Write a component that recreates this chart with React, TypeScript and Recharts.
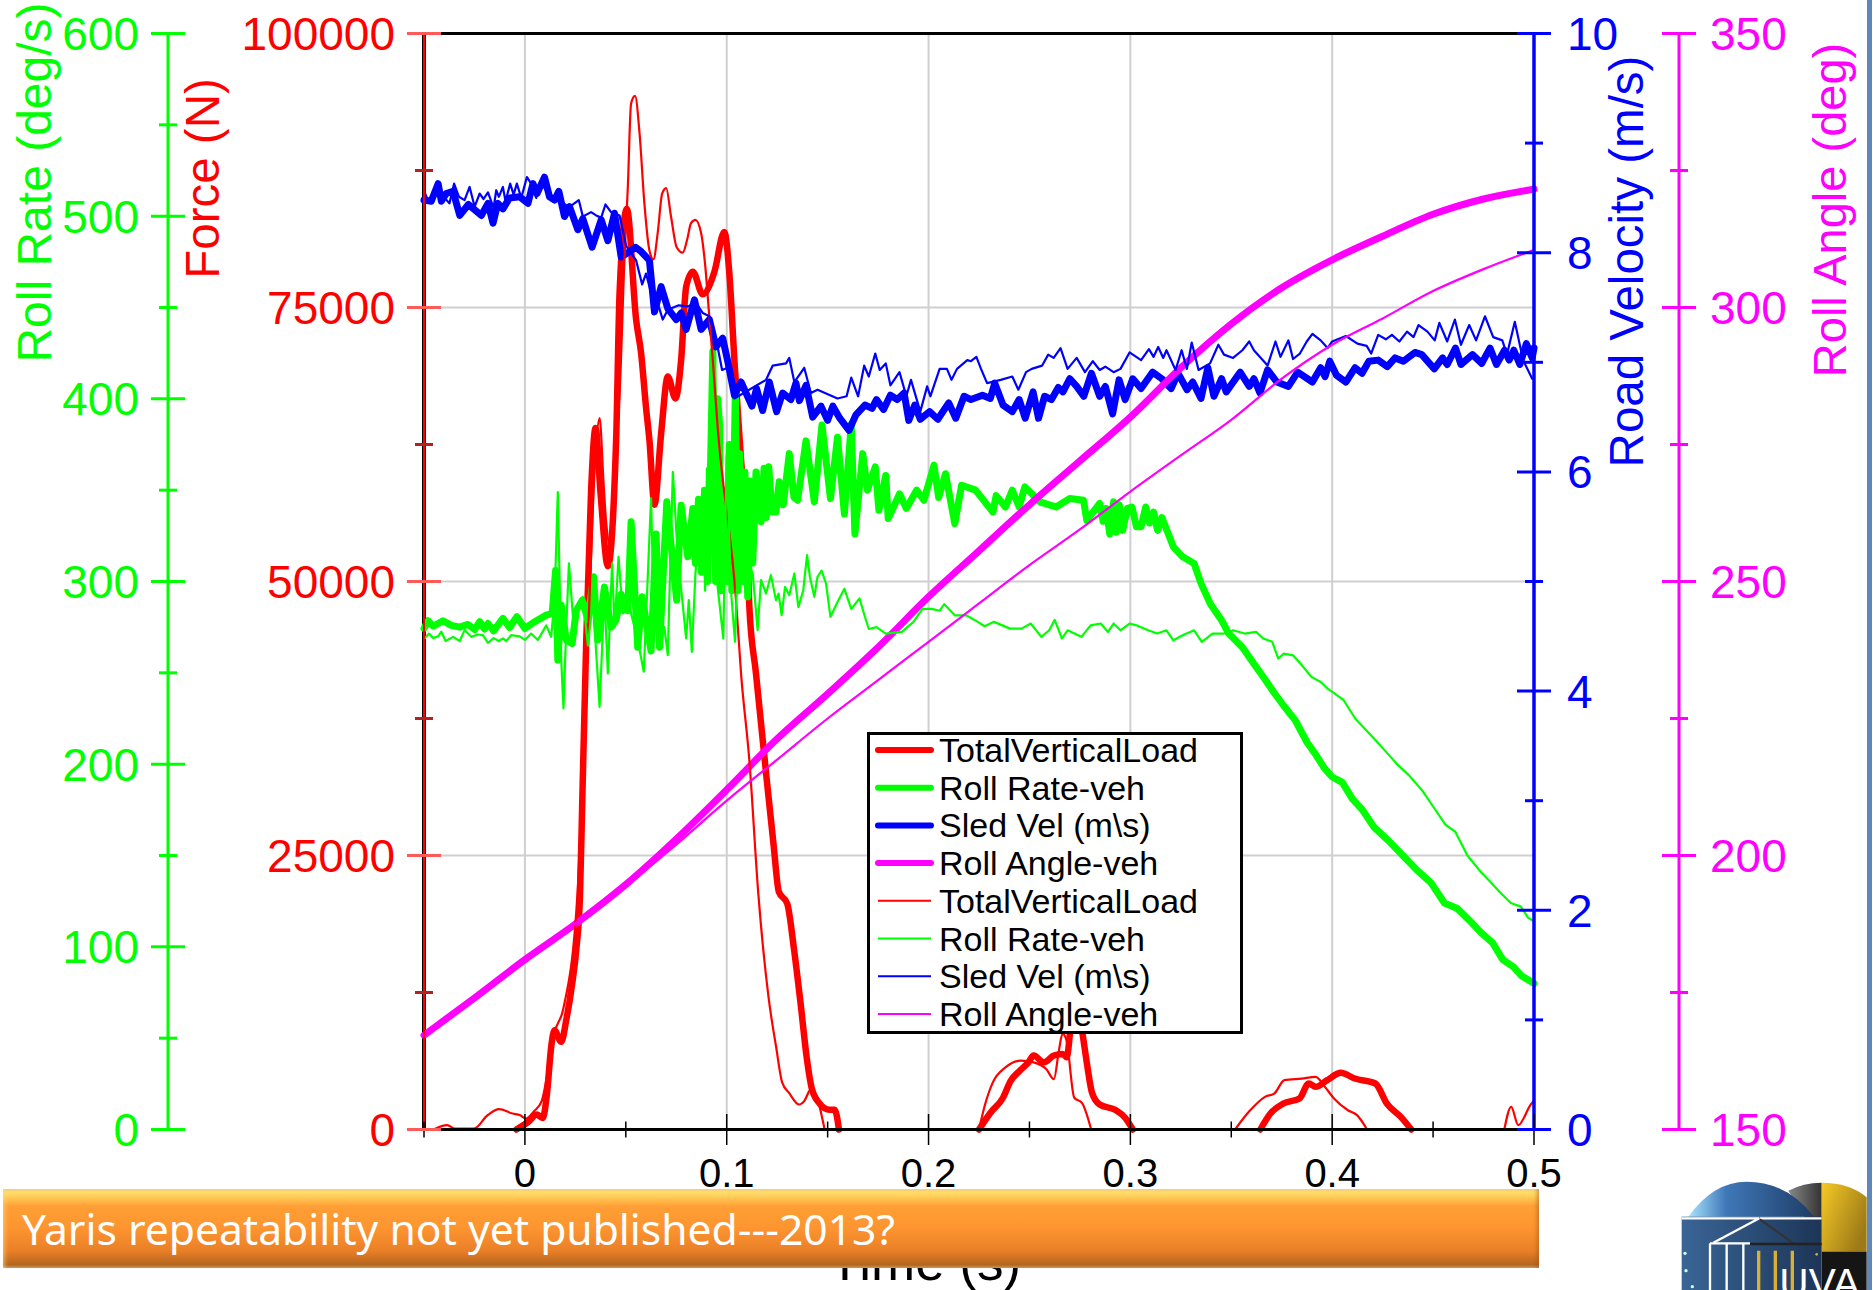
import React from 'react';
import { ComposedChart, CartesianGrid, XAxis, YAxis, Line, Legend, ReferenceLine } from 'recharts';

const RED = '#ff0000';
const GREEN = '#00ff00';
const BLUE = '#0000ff';
const MAGENTA = '#ff00ff';

// axis ticks (minor ones get no label)
const timeTicks = [-0.05, 0, 0.05, 0.1, 0.15, 0.2, 0.25, 0.3, 0.35, 0.4, 0.45, 0.5];
const timeLabels = [0, 0.1, 0.2, 0.3, 0.4, 0.5];
const rateTicks = [0, 50, 100, 150, 200, 250, 300, 350, 400, 450, 500, 550, 600];
const rateLabels = [0, 100, 200, 300, 400, 500, 600];
const forceTicks = [0, 12500, 25000, 37500, 50000, 62500, 75000, 87500, 100000];
const forceLabels = [0, 25000, 50000, 75000, 100000];
const velTicks = [0, 1, 2, 3, 4, 5, 6, 7, 8, 9, 10];
const velLabels = [0, 2, 4, 6, 8, 10];
const angleTicks = [150, 175, 200, 225, 250, 275, 300, 325, 350];
const angleLabels = [150, 200, 250, 300, 350];

// TotalVerticalLoad, thick
const forceThickT = [-0.0043, 0.002, 0.0058, 0.0088, 0.0109, 0.013, 0.0146, 0.018, 0.0205, 0.0235, 0.0255, 0.0273, 0.0285, 0.0304, 0.0328, 0.035, 0.0375, 0.0411, 0.0452, 0.0469, 0.0505, 0.0551, 0.0576, 0.06, 0.0617, 0.0642, 0.0675, 0.0708, 0.0746, 0.0774, 0.0799, 0.0832, 0.0881, 0.0939, 0.0988, 0.1013, 0.1038, 0.1071, 0.1104, 0.1112, 0.1145, 0.1195, 0.1232, 0.1258, 0.13, 0.1333, 0.1366, 0.1396, 0.1422, 0.1459, 0.151, 0.1535, 0.1556, 0.19, 0.225, 0.2306, 0.2369, 0.2407, 0.2452, 0.2495, 0.2521, 0.2571, 0.2621, 0.2664, 0.2684, 0.2722, 0.276, 0.2785, 0.281, 0.2848, 0.2924, 0.2975, 0.3012, 0.33, 0.3644, 0.3694, 0.3758, 0.3838, 0.3884, 0.3918, 0.3975, 0.4043, 0.4112, 0.4214, 0.4271, 0.434, 0.4392];
const forceThick = [0, 740, 1360, 1050, 3200, 7500, 9060, 8000, 10000, 13400, 16500, 21400, 30600, 44700, 58350, 64000, 58000, 51400, 62900, 76300, 84000, 73900, 70800, 65900, 62900, 57000, 63500, 68700, 66700, 70200, 76900, 78270, 76200, 78270, 81900, 78100, 70200, 61100, 52300, 47700, 41600, 32500, 26000, 21700, 20600, 16500, 11500, 6600, 3700, 2400, 1800, 1800, 0, null, 0, 1510, 2900, 4440, 5360, 6130, 6750, 6130, 6750, 6900, 6600, 12100, 9060, 6000, 3360, 2280, 1800, 1050, 0, null, 0, 1460, 2370, 2830, 4200, 3890, 4500, 5170, 4650, 4200, 2370, 1150, 0];

// TotalVerticalLoad, thin
const forceThinT = [-0.0452, -0.0385, -0.0347, -0.0252, -0.0185, -0.0128, -0.0061, -0.0023, 0.0006, 0.0045, 0.0083, 0.012, 0.0146, 0.019, 0.026, 0.0312, 0.0353, 0.037, 0.039, 0.0403, 0.0427, 0.0452, 0.0469, 0.0493, 0.051, 0.0526, 0.0546, 0.0568, 0.0592, 0.0617, 0.0637, 0.0658, 0.068, 0.07, 0.0724, 0.0752, 0.0782, 0.0804, 0.0823, 0.0845, 0.0873, 0.0894, 0.0911, 0.0931, 0.0955, 0.1046, 0.1071, 0.1112, 0.1157, 0.1207, 0.1245, 0.1275, 0.1308, 0.1359, 0.1384, 0.1417, 0.1447, 0.1485, 0.19, 0.225, 0.228, 0.2318, 0.2381, 0.2457, 0.2521, 0.2583, 0.2621, 0.2646, 0.2664, 0.2684, 0.2722, 0.276, 0.2806, 0.32, 0.3519, 0.3587, 0.3667, 0.3713, 0.3763, 0.3849, 0.3918, 0.3964, 0.4009, 0.4078, 0.4123, 0.4173, 0.45, 0.4853, 0.4887, 0.4922, 0.4985, 0.5];
const forceThin = [0, 400, 90, 90, 1300, 1850, 1460, 1300, 1000, 1660, 2590, 5980, 8750, 11000, 21400, 44700, 62600, 64900, 58900, 55300, 53000, 62900, 67100, 79300, 86000, 93600, 94300, 90900, 84500, 80200, 79400, 81800, 85400, 85900, 83300, 80500, 80000, 81200, 82700, 83000, 81800, 78700, 74800, 70200, 64100, 48300, 41600, 33700, 21400, 12100, 7500, 4280, 3360, 2280, 2590, 3670, 2900, 0, null, 0, 2280, 4280, 5670, 6290, 6130, 5520, 4590, 7210, 8750, 8100, 2900, 2435, 0, null, 0, 1610, 2980, 3280, 4500, 4650, 4800, 3890, 2830, 1760, 1310, 0, null, 0, 2070, 400, 2310, 2600];

// Roll Rate-veh, thick
const rateThickT = [-0.05, -0.048, -0.0455, -0.043, -0.0406, -0.0365, -0.0323, -0.0282, -0.0249, -0.0224, -0.02, -0.0183, -0.0155, -0.0109, -0.0076, -0.004, 0, 0.004, 0.0106, 0.0135, 0.0152, 0.0163, 0.018, 0.0205, 0.0234, 0.0254, 0.0284, 0.0312, 0.034, 0.0361, 0.0394, 0.0427, 0.0452, 0.0477, 0.051, 0.0526, 0.0559, 0.0581, 0.0625, 0.065, 0.0667, 0.0703, 0.0752, 0.0774, 0.0807, 0.0832, 0.0845, 0.086, 0.0875, 0.089, 0.0905, 0.092, 0.0931, 0.0945, 0.0955, 0.0964, 0.0972, 0.0985, 0.1, 0.1013, 0.1025, 0.1043, 0.1055, 0.1065, 0.108, 0.109, 0.1104, 0.1115, 0.1129, 0.1145, 0.117, 0.1185, 0.1195, 0.1208, 0.1225, 0.1244, 0.126, 0.128, 0.131, 0.1333, 0.1351, 0.1393, 0.1434, 0.1472, 0.1514, 0.1549, 0.1583, 0.1617, 0.1635, 0.1674, 0.1697, 0.1736, 0.1754, 0.1788, 0.18, 0.1811, 0.1856, 0.189, 0.1941, 0.1977, 0.2027, 0.205, 0.2084, 0.213, 0.2164, 0.2233, 0.2319, 0.2335, 0.2381, 0.2415, 0.2449, 0.2477, 0.2552, 0.2632, 0.27, 0.2768, 0.2784, 0.2848, 0.2865, 0.288, 0.2898, 0.2917, 0.293, 0.2945, 0.2962, 0.2985, 0.3008, 0.303, 0.3053, 0.3076, 0.3095, 0.3115, 0.3135, 0.3156, 0.3213, 0.3259, 0.3316, 0.335, 0.3395, 0.3452, 0.3487, 0.3555, 0.3612, 0.3658, 0.3715, 0.376, 0.3817, 0.3875, 0.392, 0.396, 0.4, 0.405, 0.41, 0.415, 0.4207, 0.428, 0.435, 0.442, 0.449, 0.4556, 0.462, 0.4693, 0.4735, 0.4796, 0.4845, 0.4898, 0.494, 0.5];
const rateThick = [274.3, 278.5, 275.6, 277, 278.5, 276, 275, 276.5, 273.7, 278, 274, 277, 273, 279.8, 274.8, 280.7, 274.3, 277.4, 281.6, 282.5, 306, 257, 287, 268, 266, 284, 289.8, 279, 302.6, 268, 297, 275, 279, 293, 284, 332.7, 264, 291.6, 262, 326, 264, 343.6, 289.8, 341.8, 313.5, 340, 310, 345, 305, 350, 300, 365, 426, 300, 400, 387, 295, 350, 300, 375, 295, 406, 295, 370, 300, 360, 291.6, 355, 310, 360, 332.7, 362, 335, 362.8, 338, 338, 354.6, 342, 370, 346, 344.5, 377, 343.6, 385.7, 345.4, 379, 337, 386, 326, 370, 350, 362.8, 339, 358, 334.5, 337, 348, 340, 350, 344.5, 363.7, 346, 359, 331.7, 352.7, 350, 338, 347, 340.8, 350, 340.8, 351.8, 343.6, 340.8, 345.4, 344.5, 333.5, 342.7, 333, 340, 326, 343.6, 327, 342, 328, 340, 340.8, 330, 330, 340.8, 332, 338, 328, 335, 319, 313.5, 309.8, 299, 288, 278.8, 271.5, 264, 255, 247.8, 238.7, 232, 224, 212, 205, 198, 193, 190, 181, 175, 165.5, 158, 150, 142, 135, 124, 121, 113, 108, 102, 93, 89, 84, 80];

// Roll Rate-veh, thin
const rateThinT = [-0.0497, -0.0475, -0.0455, -0.043, -0.0414, -0.0393, -0.0356, -0.0323, -0.0299, -0.0266, -0.0233, -0.0208, -0.0183, -0.0155, -0.0129, -0.0109, -0.0092, -0.0068, -0.0026, 0, 0.0031, 0.0064, 0.0106, 0.013, 0.0147, 0.0163, 0.018, 0.0191, 0.0205, 0.0218, 0.0238, 0.0287, 0.0312, 0.0337, 0.037, 0.0394, 0.0411, 0.0432, 0.0444, 0.0464, 0.0485, 0.0518, 0.0559, 0.0589, 0.0625, 0.0634, 0.0658, 0.0691, 0.0708, 0.0733, 0.0757, 0.0799, 0.0812, 0.0827, 0.0845, 0.0881, 0.0893, 0.0902, 0.0931, 0.0955, 0.0983, 0.1, 0.1021, 0.1041, 0.1063, 0.1088, 0.1112, 0.1129, 0.1153, 0.117, 0.1195, 0.1219, 0.1244, 0.1257, 0.1272, 0.1289, 0.131, 0.1335, 0.1355, 0.1379, 0.1398, 0.1412, 0.1434, 0.145, 0.147, 0.1492, 0.1514, 0.1549, 0.1583, 0.1617, 0.1658, 0.1685, 0.1704, 0.1742, 0.1788, 0.1868, 0.1925, 0.197, 0.2016, 0.2055, 0.2078, 0.213, 0.2187, 0.2244, 0.2278, 0.2324, 0.2404, 0.2461, 0.2506, 0.2559, 0.2598, 0.2625, 0.2661, 0.2689, 0.2757, 0.2803, 0.2853, 0.2889, 0.2917, 0.2951, 0.2996, 0.303, 0.3088, 0.3133, 0.3179, 0.3213, 0.3259, 0.3316, 0.3354, 0.3407, 0.3464, 0.3509, 0.3566, 0.3623, 0.3658, 0.3703, 0.3733, 0.376, 0.3806, 0.3851, 0.3897, 0.3943, 0.3977, 0.4011, 0.4057, 0.4114, 0.4165, 0.4207, 0.4265, 0.4325, 0.438, 0.445, 0.4505, 0.4562, 0.461, 0.467, 0.4739, 0.478, 0.483, 0.4885, 0.4935, 0.497, 0.5];
const rateThin = [268.8, 271.5, 269, 270, 272.5, 267.4, 269.7, 267.4, 273.4, 269.7, 271, 270.6, 266.4, 269, 267.4, 268.8, 267.4, 270.6, 270, 268, 271.5, 268, 276, 269.7, 289.8, 349, 257, 230.5, 275, 309.9, 280.7, 291.6, 265, 289.8, 231.4, 293.4, 249.7, 309.9, 275, 313.5, 282.5, 286, 268, 250.6, 345.5, 304.4, 264, 275, 259.7, 360, 315, 268.8, 289.8, 261.5, 304.4, 350.9, 295, 361.9, 322, 297, 268.8, 369, 295, 267, 340.9, 313, 309.9, 304, 273.4, 300.8, 293.4, 303.5, 289.8, 293.4, 281.6, 297, 292.5, 304.4, 286, 295, 314.4, 302.6, 291.6, 302.6, 306, 298.9, 280.6, 288.8, 296, 285, 290.7, 280.6, 274, 275, 271.5, 272.4, 277.9, 285, 285, 284, 287.6, 281.5, 281.5, 277.9, 275.5, 277.9, 274.2, 274.2, 277, 269.7, 273.3, 279, 268.8, 273.3, 269.7, 276, 277, 272.4, 277, 273.3, 277, 276, 273.3, 271.5, 273.3, 267.8, 270.6, 273.3, 267, 271.5, 271.5, 273.3, 271.5, 272.4, 268.8, 267, 257.8, 260.5, 259.6, 254, 247.8, 245, 241.4, 238.7, 235, 225, 219, 214, 207, 199.6, 194, 185, 176, 166.8, 163, 150, 140.7, 136, 130, 124, 122, 116, 114];

// Sled Vel, thick
const velThickT = [-0.05, -0.0464, -0.043, -0.0414, -0.039, -0.0356, -0.0323, -0.028, -0.0216, -0.0183, -0.0158, -0.0134, -0.0109, -0.0076, -0.0026, 0.0015, 0.004, 0.006, 0.0097, 0.0122, 0.0147, 0.0168, 0.0196, 0.0221, 0.0262, 0.0287, 0.0333, 0.0378, 0.0411, 0.0444, 0.0477, 0.0518, 0.0548, 0.0576, 0.0617, 0.0642, 0.0675, 0.0708, 0.075, 0.0774, 0.0799, 0.084, 0.0873, 0.0914, 0.0947, 0.098, 0.1005, 0.1038, 0.1071, 0.1125, 0.1148, 0.1178, 0.1211, 0.1247, 0.1277, 0.1318, 0.1343, 0.136, 0.1393, 0.1426, 0.1467, 0.15, 0.1526, 0.156, 0.1606, 0.164, 0.1685, 0.172, 0.1742, 0.1777, 0.1811, 0.1845, 0.1879, 0.1902, 0.1932, 0.1959, 0.2005, 0.2046, 0.21, 0.2135, 0.2176, 0.221, 0.2267, 0.2306, 0.2328, 0.2369, 0.2415, 0.2449, 0.2479, 0.2518, 0.2545, 0.2575, 0.2609, 0.2643, 0.2666, 0.27, 0.2734, 0.2769, 0.2807, 0.2848, 0.2876, 0.2912, 0.2944, 0.2974, 0.3012, 0.3053, 0.311, 0.3156, 0.3202, 0.3236, 0.3281, 0.3309, 0.335, 0.3384, 0.3414, 0.3452, 0.3475, 0.3544, 0.3589, 0.3612, 0.3642, 0.368, 0.3726, 0.3783, 0.3829, 0.3902, 0.3943, 0.3965, 0.3988, 0.4022, 0.4068, 0.4113, 0.4148, 0.4182, 0.4228, 0.4273, 0.4312, 0.4353, 0.441, 0.4444, 0.4506, 0.4547, 0.457, 0.4611, 0.4638, 0.4695, 0.4741, 0.4782, 0.4814, 0.4854, 0.4877, 0.49, 0.493, 0.4962, 0.4991, 0.5];
const velThick = [8.48, 8.47, 8.63, 8.47, 8.54, 8.56, 8.34, 8.44, 8.34, 8.45, 8.27, 8.45, 8.4, 8.5, 8.51, 8.45, 8.63, 8.54, 8.69, 8.51, 8.48, 8.56, 8.33, 8.42, 8.21, 8.31, 8.05, 8.3, 8.11, 8.36, 7.96, 8.01, 8.05, 8.01, 7.93, 7.46, 7.69, 7.49, 7.39, 7.45, 7.3, 7.57, 7.3, 7.39, 7.14, 7.22, 7.01, 6.7, 6.82, 6.6, 6.76, 6.56, 6.82, 6.55, 6.72, 6.66, 6.81, 6.65, 6.79, 6.5, 6.6, 6.47, 6.6, 6.49, 6.38, 6.52, 6.61, 6.58, 6.66, 6.57, 6.7, 6.66, 6.72, 6.47, 6.61, 6.48, 6.55, 6.48, 6.63, 6.49, 6.69, 6.66, 6.7, 6.67, 6.81, 6.61, 6.55, 6.66, 6.49, 6.73, 6.49, 6.69, 6.66, 6.77, 6.73, 6.85, 6.78, 6.69, 6.9, 6.69, 6.78, 6.53, 6.84, 6.66, 6.85, 6.76, 6.91, 6.85, 6.76, 6.9, 6.75, 6.82, 6.67, 6.95, 6.69, 6.85, 6.73, 6.91, 6.78, 6.85, 6.72, 6.93, 6.82, 6.78, 6.91, 6.82, 6.95, 6.87, 7.01, 6.88, 6.82, 6.95, 6.9, 7.01, 7.02, 6.96, 7.04, 7.01, 7.09, 7.07, 6.94, 7.04, 6.98, 7.13, 6.98, 7.07, 6.99, 7.13, 6.98, 7.11, 7.02, 7.11, 6.98, 7.17, 7.04, 7.13];

// Sled Vel, thin
const velThinT = [-0.05, -0.0497, -0.048, -0.043, -0.0374, -0.0351, -0.0327, -0.0299, -0.0274, -0.0249, -0.0224, -0.0205, -0.0183, -0.0155, -0.0142, -0.0129, -0.0109, -0.0096, -0.0073, -0.0056, -0.004, -0.0018, 0.001, 0.0031, 0.0056, 0.0076, 0.0114, 0.0172, 0.0213, 0.0238, 0.0267, 0.0287, 0.0328, 0.0353, 0.0378, 0.0399, 0.0427, 0.0469, 0.0502, 0.0551, 0.0581, 0.06, 0.0634, 0.0658, 0.0683, 0.0708, 0.0762, 0.0807, 0.0848, 0.0881, 0.0914, 0.0955, 0.0977, 0.1005, 0.1038, 0.1195, 0.1228, 0.1294, 0.131, 0.1335, 0.1384, 0.1417, 0.145, 0.1549, 0.1594, 0.1617, 0.1651, 0.1681, 0.1704, 0.1736, 0.1758, 0.1788, 0.1811, 0.1856, 0.189, 0.1913, 0.1959, 0.1993, 0.2009, 0.2055, 0.2091, 0.2114, 0.2141, 0.2192, 0.221, 0.2237, 0.226, 0.229, 0.2358, 0.2415, 0.2445, 0.2483, 0.2511, 0.2563, 0.2593, 0.262, 0.2654, 0.2689, 0.2734, 0.2775, 0.2814, 0.2848, 0.2876, 0.2917, 0.2951, 0.2996, 0.3053, 0.3092, 0.3115, 0.3138, 0.3163, 0.3179, 0.3224, 0.3254, 0.328, 0.3304, 0.3338, 0.3395, 0.3436, 0.3464, 0.3509, 0.3555, 0.3589, 0.3612, 0.368, 0.3719, 0.3744, 0.3783, 0.3806, 0.384, 0.3874, 0.3902, 0.3943, 0.3977, 0.4, 0.4068, 0.4125, 0.4171, 0.4193, 0.4228, 0.4266, 0.4296, 0.4333, 0.4371, 0.4403, 0.4428, 0.4472, 0.4508, 0.4531, 0.457, 0.4608, 0.4638, 0.4679, 0.4713, 0.4757, 0.4798, 0.4843, 0.4866, 0.4905, 0.4946, 0.4991, 0.5];
const velThin = [8.45, 8.55, 8.48, 8.57, 8.45, 8.63, 8.51, 8.48, 8.6, 8.42, 8.54, 8.49, 8.55, 8.41, 8.57, 8.51, 8.6, 8.47, 8.63, 8.53, 8.63, 8.5, 8.69, 8.63, 8.5, 8.65, 8.54, 8.48, 8.42, 8.44, 8.48, 8.33, 8.37, 8.34, 8.32, 8.44, 8.37, 8.34, 8.06, 7.93, 7.71, 7.81, 7.57, 7.54, 7.39, 7.48, 7.52, 7.51, 7.54, 7.45, 7.42, 7.14, 6.93, 6.95, 6.67, 6.84, 6.97, 6.99, 7.04, 6.82, 6.95, 6.72, 6.75, 6.67, 6.69, 6.86, 6.69, 6.97, 6.87, 7.08, 6.93, 6.99, 6.79, 6.91, 6.69, 6.84, 6.55, 6.78, 6.69, 6.94, 6.94, 6.84, 6.94, 7.02, 7.01, 7.05, 6.94, 6.81, 6.84, 6.87, 6.75, 6.91, 6.94, 6.97, 7.07, 7.04, 7.13, 6.94, 7.04, 6.91, 7.01, 6.93, 6.96, 6.91, 6.94, 7.09, 7.02, 7.12, 7.05, 7.14, 7.04, 7.11, 6.93, 7.11, 6.94, 7.18, 6.93, 6.99, 7.16, 7.07, 7.04, 7.11, 7.19, 7.11, 6.97, 7.19, 7.05, 7.2, 7.03, 7.08, 7.19, 7.26, 7.2, 7.13, 7.19, 7.24, 7.17, 7.15, 7.08, 7.25, 7.21, 7.25, 7.19, 7.28, 7.23, 7.34, 7.28, 7.2, 7.36, 7.19, 7.39, 7.16, 7.34, 7.2, 7.42, 7.23, 7.2, 7.07, 7.37, 7.02, 6.85, 6.85];

// Roll Angle-veh
const angleThickT = [-0.05, -0.025, 0, 0.025, 0.05, 0.075, 0.1, 0.125, 0.15, 0.175, 0.2, 0.225, 0.25, 0.275, 0.3, 0.325, 0.35, 0.375, 0.4, 0.425, 0.45, 0.475, 0.5];
const angleThick = [167.2, 174, 181, 187.5, 194.7, 203, 212, 221.3, 229.5, 238, 247.2, 255.6, 264, 272, 280, 289, 297, 303.6, 308.7, 313, 317, 319.8, 321.6];
const angleThinT = [-0.05, 0, 0.05, 0.075, 0.1, 0.125, 0.15, 0.175, 0.2, 0.225, 0.25, 0.275, 0.3, 0.325, 0.35, 0.375, 0.4, 0.425, 0.45, 0.475, 0.5];
const angleThin = [167.5, 181, 194.5, 202, 210, 217.5, 225, 232, 239, 246, 253, 259.5, 266.4, 273, 279.5, 287, 293.2, 298, 303, 307, 310.5];

const zip = (ts: number[], vs: (number | null)[]) => ts.map((t, i) => ({ t, v: vs[i] }));

const FONT = '"Liberation Sans", Arial, sans-serif';

// ticks cross the axis line, labelled ones are longer
const VTick = (props: any) => {
  const { x, y, payload, color, labels, side, labelX, minorColor, majorColor } = props;
  const major = labels.includes(payload.value);
  const half = major ? 17 : 9;
  return (
    <g>
      <line x1={x - half} x2={x + half} y1={y} y2={y} stroke={major ? (majorColor || color) : (minorColor || color)} strokeWidth={3} />
      {major && (
        <text x={labelX} y={y + 16.5} textAnchor={side === 'left' ? 'end' : 'start'} fontSize={46} fontFamily={FONT} fill={color}>
          {payload.value}
        </text>
      )}
    </g>
  );
};

const TimeTick = (props: any) => {
  const { x, y, payload } = props;
  const major = timeLabels.includes(payload.value);
  const half = major ? 15.5 : 8;
  return (
    <g>
      <line x1={x} x2={x} y1={y - half} y2={y + half} stroke="#000" strokeWidth={1.5} />
      {major && (
        <text x={x} y={1187} textAnchor="middle" fontSize={40} fontFamily={FONT} fill="#000">
          {payload.value}
        </text>
      )}
    </g>
  );
};

const AxisTitle = ({ text, color, tx, ty, size }: any) => (
  <text transform={`translate(${tx},${ty}) rotate(-90)`} textAnchor="middle" fontSize={size} fontFamily={FONT} fill={color}>
    {text}
  </text>
);

const TimeTitle = () => (
  <text x={925} y={1280} textAnchor="middle" fontSize={53} fontFamily={FONT} fill="#000">
    Time (s)
  </text>
);

const LegendBox = ({ payload }: any) => (
  <svg width={376} height={302} style={{ display: 'block' }}>
    <rect x={1.5} y={1.5} width={373} height={299} fill="#fff" stroke="#000" strokeWidth={3} />
    {(payload || []).map((entry: any, i: number) => {
      const thick = i < 4;
      const rowY = 18 + i * 37.7;
      return (
        <g key={i}>
          <line x1={11} x2={64} y1={rowY} y2={rowY} stroke={entry.color} strokeWidth={thick ? 6 : 2} strokeLinecap={thick ? 'round' : 'butt'} />
          <text x={72} y={rowY + 12} fontSize={34} fontFamily={FONT} fill="#000">
            {entry.value}
          </text>
        </g>
      );
    })}
  </svg>
);

const Logo = () => (
  <svg width={213} height={130} viewBox="0 0 639 390" style={{ position: 'absolute', left: 1660, top: 1160 }}>
    <defs>
      <linearGradient id="domeFill" x1="0" y1="0" x2="1" y2="0">
        <stop offset="0" stopColor="#a8e4ff" />
        <stop offset="0.3" stopColor="#3f78b8" />
        <stop offset="1" stopColor="#1f3d66" />
      </linearGradient>
      <linearGradient id="greyFill" x1="0" y1="0" x2="1" y2="0">
        <stop offset="0" stopColor="#888" />
        <stop offset="1" stopColor="#333" />
      </linearGradient>
      <linearGradient id="goldFill" x1="0" y1="0" x2="1" y2="0.6">
        <stop offset="0" stopColor="#f6c927" />
        <stop offset="1" stopColor="#9c7a17" />
      </linearGradient>
      <linearGradient id="wallFill" x1="0" y1="0" x2="1" y2="0">
        <stop offset="0" stopColor="#3a6596" />
        <stop offset="1" stopColor="#1d3557" />
      </linearGradient>
    </defs>
    <path d="M385 92 Q430 68 485 68 L485 180 L440 180 Z" fill="url(#greyFill)" />
    <path d="M485 68 Q570 68 620 112 L620 275 L485 275 Z" fill="url(#goldFill)" />
    <rect x={485} y={275} width={135} height={115} fill="#151515" />
    <path d="M85 170 Q160 65 260 65 Q380 65 462 170 Z" fill="url(#domeFill)" />
    <rect x={65} y={170} width={420} height={220} fill="url(#wallFill)" />
    <path d="M65 175 L298 175 L160 248 M300 175 L485 175" stroke="#fff" strokeWidth={7} fill="none" />
    <path d="M300 178 L400 250" stroke="#333" strokeWidth={6} />
    <path d="M150 250 L270 250 M150 250 L150 390 M200 250 L200 390 M250 250 L250 390" stroke="#fff" strokeWidth={7} fill="none" />
    <path d="M270 252 L485 252" stroke="#222" strokeWidth={7} />
    <path d="M296 272 L296 390 M346 272 L346 390 M397 272 L397 390" stroke="#d9b034" strokeWidth={10} />
    <circle cx={75} cy={280} r={5} fill="#cfe" />
    <circle cx={78} cy={332} r={5} fill="#cfe" />
    <circle cx={97} cy={380} r={5} fill="#cfe" />
    <circle cx={470} cy={283} r={4} fill="#d9b034" />
    <text x={358} y={412} fontSize={122} fontFamily={FONT} fill="#fff">UVA</text>
  </svg>
);

export default function App() {
  return (
    <div style={{ position: 'absolute', left: 0, top: 0, width: 1873, height: 1290, background: '#fff', overflow: 'hidden' }}>
      <ComposedChart width={1873} height={1290} margin={{ top: 33.5, right: 0, bottom: 0, left: 0 }}>
        <CartesianGrid
          xAxisId="time"
          yAxisId="force"
          horizontalValues={[25000, 50000, 75000]}
          verticalValues={[0, 0.1, 0.2, 0.3, 0.4]}
          stroke="#cfcfcf"
          strokeWidth={2}
        />
        <XAxis
          xAxisId="time"
          dataKey="t"
          type="number"
          domain={[-0.05, 0.5]}
          ticks={timeTicks}
          interval={0}
          height={160.5}
          tickSize={0}
          tickMargin={0}
          tickLine={false}
          axisLine={{ stroke: '#000', strokeWidth: 3 }}
          tick={(p: any) => <TimeTick {...p} />}
          label={<TimeTitle />}
        />
        <YAxis
          yAxisId="rate"
          orientation="left"
          width={168}
          domain={[0, 600]}
          ticks={rateTicks}
          interval={0}
          tickSize={0}
          tickMargin={0}
          tickLine={false}
          axisLine={{ stroke: GREEN, strokeWidth: 3 }}
          tick={(p: any) => <VTick {...p} color={GREEN} labels={rateLabels} side="left" labelX={139} />}
          label={<AxisTitle text="Roll Rate (deg/s)" color={GREEN} tx={51} ty={182.5} size={48} />}
        />
        <YAxis
          yAxisId="force"
          orientation="left"
          width={256}
          domain={[0, 100000]}
          ticks={forceTicks}
          interval={0}
          tickSize={0}
          tickMargin={0}
          tickLine={false}
          axisLine={{ stroke: RED, strokeWidth: 2 }}
          tick={(p: any) => <VTick {...p} color={RED} majorColor="#ff5a5a" minorColor="#b22222" labels={forceLabels} side="left" labelX={395} />}
          label={<AxisTitle text="Force (N)" color={RED} tx={219} ty={178.5} size={47.5} />}
        />
        <YAxis
          yAxisId="roadVelocity"
          orientation="right"
          width={145}
          domain={[0, 10]}
          ticks={velTicks}
          interval={0}
          tickSize={0}
          tickMargin={0}
          tickLine={false}
          axisLine={{ stroke: BLUE, strokeWidth: 3.5 }}
          tick={(p: any) => <VTick {...p} color={BLUE} labels={velLabels} side="right" labelX={1567} />}
          label={<AxisTitle text="Road Velocity (m/s)" color={BLUE} tx={1643} ty={261.5} size={47.5} />}
        />
        <YAxis
          yAxisId="rollAngle"
          orientation="right"
          width={194}
          domain={[150, 350]}
          ticks={angleTicks}
          interval={0}
          tickSize={0}
          tickMargin={0}
          tickLine={false}
          axisLine={{ stroke: MAGENTA, strokeWidth: 3 }}
          tick={(p: any) => <VTick {...p} color={MAGENTA} labels={angleLabels} side="right" labelX={1710} />}
          label={<AxisTitle text="Roll Angle (deg)" color={MAGENTA} tx={1846} ty={210} size={47} />}
        />
        <ReferenceLine xAxisId="time" yAxisId="force" y={100000} stroke="#000" strokeWidth={3} />
        <ReferenceLine xAxisId="time" yAxisId="force" x={-0.05} stroke="#000" strokeWidth={4} />

        <Line xAxisId="time" yAxisId="force" data={zip(forceThickT, forceThick)} dataKey="v" name="TotalVerticalLoad" type="monotone" stroke={RED} strokeWidth={6.5} dot={false} strokeLinejoin="round" strokeLinecap="round" isAnimationActive={false} />
        <Line xAxisId="time" yAxisId="rate" data={zip(rateThickT, rateThick)} dataKey="v" name="Roll Rate-veh" stroke={GREEN} strokeWidth={7} dot={false} strokeLinejoin="round" strokeLinecap="round" isAnimationActive={false} />
        <Line xAxisId="time" yAxisId="roadVelocity" data={zip(velThickT, velThick)} dataKey="v" name="Sled Vel (m\s)" stroke={BLUE} strokeWidth={7} dot={false} strokeLinejoin="round" strokeLinecap="round" isAnimationActive={false} />
        <Line xAxisId="time" yAxisId="rollAngle" data={zip(angleThickT, angleThick)} dataKey="v" name="Roll Angle-veh" type="monotone" stroke={MAGENTA} strokeWidth={7} dot={false} strokeLinejoin="round" strokeLinecap="round" isAnimationActive={false} />
        <Line xAxisId="time" yAxisId="force" data={zip(forceThinT, forceThin)} dataKey="v" name="TotalVerticalLoad" type="monotone" stroke={RED} strokeWidth={2.2} dot={false} strokeLinejoin="round" isAnimationActive={false} />
        <Line xAxisId="time" yAxisId="rate" data={zip(rateThinT, rateThin)} dataKey="v" name="Roll Rate-veh" stroke={GREEN} strokeWidth={2.2} dot={false} strokeLinejoin="round" isAnimationActive={false} />
        <Line xAxisId="time" yAxisId="roadVelocity" data={zip(velThinT, velThin)} dataKey="v" name="Sled Vel (m\s)" stroke={BLUE} strokeWidth={2.2} dot={false} strokeLinejoin="round" isAnimationActive={false} />
        <Line xAxisId="time" yAxisId="rollAngle" data={zip(angleThinT, angleThin)} dataKey="v" name="Roll Angle-veh" type="monotone" stroke={MAGENTA} strokeWidth={2.2} dot={false} strokeLinejoin="round" isAnimationActive={false} />

        <Legend
          layout="horizontal"
          align="center"
          verticalAlign="middle"
          itemSorter={null}
          content={<LegendBox />}
          wrapperStyle={{ position: 'absolute', left: 867, top: 732, width: 376, height: 302 }}
        />
      </ComposedChart>

      <div style={{
        position: 'absolute', left: 3, top: 1189, width: 1536, height: 79, boxSizing: 'border-box',
        background: 'linear-gradient(#f6cf86 0%, #ffdd66 5%, #ff9f35 22%, #fd9430 50%, #ea8027 78%, #b5651d 96%, #c79a66 100%)',
        boxShadow: 'inset 5px 0 4px -3px rgba(255,220,120,.6), inset -5px 0 4px -3px rgba(150,80,20,.5)',
        color: '#fff', fontFamily: '"Noto Sans", sans-serif', fontSize: 42.6, lineHeight: '79px', paddingLeft: 19, whiteSpace: 'nowrap',
      }}>
        Yaris repeatability not yet published---2013?
      </div>
      <Logo />
      <div style={{ position: 'absolute', left: 1867, top: 0, width: 5, height: 1290, background: '#5f87b8' }} />
    </div>
  );
}
